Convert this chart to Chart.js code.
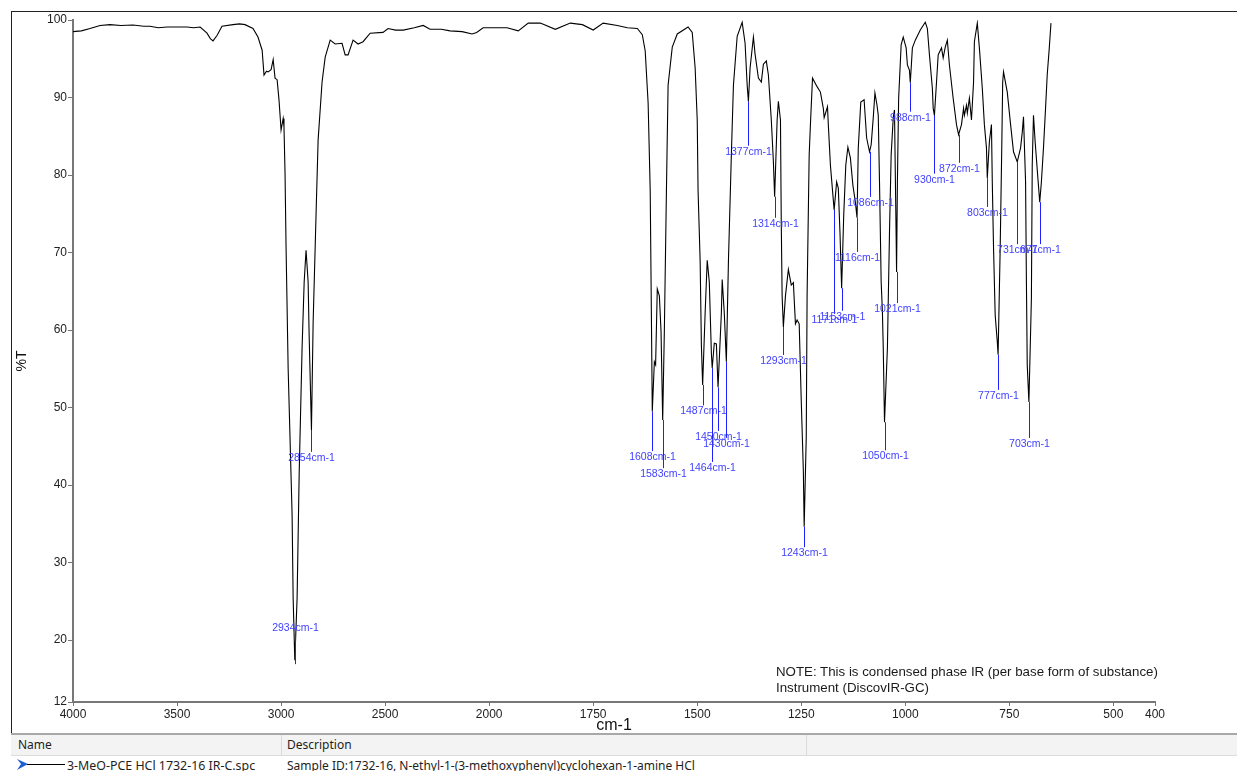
<!DOCTYPE html>
<html>
<head>
<meta charset="utf-8">
<script src="https://cdn.jsdelivr.net/npm/chart.js@4"></script>
<style>
  body { margin: 0; width: 1237px; height: 771px; position: relative; overflow: hidden; background: #fff; font-family: "Liberation Sans", Arial, sans-serif; }
  #frame { position: absolute; left: 11px; top: 11px; width: 1240px; height: 722px; border-left: 1px solid #222; border-top: 1px solid #222; }
  #chart { position: absolute; left: 0; top: 0; }
  .note { position: absolute; left: 776px; font-size: 13.3px; line-height: 16px; color: #1a1a1a; white-space: pre; }
  #table { position: absolute; left: 11px; top: 733px; width: 1240px; height: 40px; background: #fff; font-family: "Noto Sans", sans-serif; font-size: 12px; color: #1e1e1e; border-top: 2px solid #a8a8a8; }
  #thead { position: absolute; left: 0; top: 0; width: 100%; height: 20px; background: #f3f3f3; border-bottom: 1px solid #dcdcdc; }
  .cell { position: absolute; white-space: pre; line-height: 20px; }
  .sep { position: absolute; top: 0; width: 1px; height: 20px; background: #dadada; }
</style>
</head>
<body>
<div id="frame"></div>
<canvas id="chart" width="1237" height="771"></canvas>
<div class="note" style="top:664px">NOTE: This is condensed phase IR (per base form of substance)</div>
<div class="note" style="top:680px">Instrument (DiscovIR-GC)</div>
<div id="table">
  <div id="thead">
    <div class="cell" style="left:7px">Name</div>
    <div class="sep" style="left:270px"></div>
    <div class="cell" style="left:276px">Description</div>
    <div class="sep" style="left:795px"></div>
  </div>
  <svg style="position:absolute;left:6px;top:24px" width="12" height="12"><polygon points="0,0 11,5 0,11 4,5" fill="#1f5fd6"/></svg>
  <div style="position:absolute;left:16px;top:29px;width:38px;height:1px;background:#000"></div>
  <div class="cell" style="left:56px;top:21px;font-size:12.4px">3-MeO-PCE HCl 1732-16 IR-C.spc</div>
  <div class="cell" style="left:276px;top:21px">Sample ID:1732-16, N-ethyl-1-(3-methoxyphenyl)cyclohexan-1-amine HCl</div>
</div>
<script>
// spectrum (wavenumber cm-1, %T)
const wavenumbers = [
  4000, 3960, 3918, 3870, 3822, 3770, 3712, 3660, 3630, 3590, 3548, 3500, 3452, 3420, 3389, 3356, 3340, 3327, 3308, 3284,
  3231, 3200, 3173, 3135, 3111, 3091, 3082, 3070, 3062, 3048, 3038, 3029, 3019, 3010, 3000, 2990, 2986, 2981, 2976, 2966,
  2947, 2942, 2934, 2923, 2913, 2899, 2889, 2880, 2870, 2865, 2854, 2846, 2832, 2822, 2803, 2788, 2764, 2740, 2707, 2692,
  2678, 2654, 2630, 2606, 2572, 2510, 2486, 2450, 2413, 2360, 2317, 2284, 2230, 2188, 2130, 2082, 2060, 2029, 1990, 1957,
  1930, 1906, 1877, 1841, 1805, 1776, 1750, 1726, 1692, 1668, 1644, 1632, 1625, 1618, 1613, 1611, 1608, 1603, 1600, 1596,
  1591, 1587, 1583, 1579, 1574, 1570, 1560, 1548, 1522, 1512, 1505, 1500, 1498, 1493, 1490, 1487, 1481, 1476, 1471, 1466,
  1464, 1459, 1454, 1450, 1442, 1440, 1435, 1430, 1425, 1418, 1413, 1404, 1392, 1385, 1380, 1377, 1373, 1365, 1361, 1353,
  1346, 1341, 1334, 1329, 1322, 1317, 1314, 1308, 1305, 1300, 1298, 1296, 1293, 1288, 1281, 1274, 1269, 1264, 1260, 1255,
  1250, 1245, 1243, 1238, 1236, 1231, 1228, 1223, 1212, 1204, 1197, 1195, 1187, 1185, 1180, 1171, 1165, 1161, 1157, 1153,
  1148, 1143, 1138, 1132, 1126, 1120, 1116, 1113, 1107, 1099, 1093, 1086, 1082, 1077, 1073, 1068, 1065, 1062, 1058, 1055,
  1053, 1050, 1043, 1038, 1034, 1029, 1026, 1024, 1022, 1021, 1019, 1016, 1010, 1005, 998, 995, 990, 988, 983, 976,
  964, 952, 947, 942, 935, 933, 930, 925, 921, 913, 909, 904, 899, 894, 885, 877, 872, 865, 860, 858,
  853, 851, 846, 841, 836, 834, 827, 822, 815, 810, 805, 803, 798, 793, 791, 788, 784, 779, 777, 772,
  768, 766, 764, 755, 747, 740, 731, 723, 719, 716, 711, 709, 707, 703, 697, 695, 692, 688, 682, 677,
  673, 668, 663, 659, 654, 650
];
const transmittance = [
  98.5, 98.6, 98.9, 99.3, 99.4, 99.3, 99.35, 99.2, 99.2, 99.0, 99.1, 99.1, 99.1, 99.0, 99.1, 98.3, 97.6, 97.3, 98.0, 99.2,
  99.4, 99.5, 99.4, 98.9, 97.8, 96.1, 92.9, 93.4, 93.3, 93.6, 94.9, 92.5, 92.3, 89.7, 85.8, 87.3, 86.2, 80.3, 70.6, 55.0,
  36.1, 25.4, 17.4, 25.4, 41.5, 57.7, 66.2, 70.3, 66.2, 59.2, 47.1, 60.9, 74.8, 84.5, 92.0, 95.2, 97.4, 96.9, 97.0, 95.5,
  95.5, 97.4, 96.9, 97.2, 98.3, 98.4, 98.9, 98.7, 98.7, 99.0, 99.3, 98.8, 98.8, 98.6, 98.5, 98.2, 98.4, 99.0, 99.0, 99.0,
  98.6, 99.6, 99.6, 98.8, 99.6, 99.4, 98.7, 99.6, 99.3, 99.0, 98.9, 98.1, 96.0, 89.3, 78.0, 66.7, 49.5, 55.9, 55.5, 65.3,
  64.4, 59.9, 48.4, 59.9, 78.0, 91.6, 96.5, 98.2, 99.1, 98.4, 93.8, 87.1, 78.0, 68.9, 58.0, 52.9, 62.2, 69.0, 66.2, 57.0,
  55.1, 58.3, 58.2, 52.6, 62.2, 66.5, 62.2, 55.9, 68.9, 82.6, 91.6, 97.9, 99.7, 97.0, 91.6, 89.5, 93.8, 97.8, 95.6, 92.5,
  92.0, 94.3, 94.7, 92.9, 87.1, 81.7, 77.2, 87.1, 89.5, 87.1, 73.5, 64.4, 60.4, 64.4, 67.8, 65.8, 66.1, 60.8, 61.3, 60.8,
  50.8, 41.8, 34.6, 46.3, 64.4, 82.6, 86.5, 92.5, 91.4, 90.7, 88.6, 87.4, 88.8, 86.5, 81.3, 75.5, 79.1, 78.3, 72.6, 65.4,
  74.8, 81.3, 83.6, 82.2, 78.7, 76.5, 74.5, 83.5, 89.4, 89.7, 84.8, 83.0, 83.9, 87.4, 90.6, 89.0, 87.7, 79.1, 66.2, 62.3,
  57.7, 48.1, 57.7, 72.6, 82.6, 87.4, 88.4, 80.0, 72.0, 67.5, 79.1, 89.9, 96.8, 97.8, 96.4, 94.2, 93.5, 91.9, 96.4, 97.4,
  98.7, 99.7, 98.9, 95.5, 91.2, 88.6, 87.7, 92.0, 95.5, 96.4, 95.1, 96.5, 97.4, 94.2, 89.9, 86.5, 85.2, 86.5, 88.6, 87.7,
  89.0, 88.0, 89.9, 87.1, 92.0, 97.2, 99.6, 96.4, 91.2, 86.5, 83.5, 79.6, 84.3, 86.5, 79.1, 70.6, 61.9, 58.5, 56.8, 70.6,
  84.3, 92.0, 93.3, 90.7, 86.5, 83.0, 81.7, 83.5, 85.5, 87.5, 79.1, 66.2, 55.5, 50.7, 64.1, 81.3, 87.7, 84.3, 80.0, 76.5,
  79.1, 83.5, 88.6, 92.9, 96.4, 99.6
];

// labelled peaks: position, %T at the minimum, %T where the label sits
const peakWavenumbers = [2934, 2854, 1608, 1583, 1487, 1464, 1450, 1430, 1377, 1314, 1293, 1243, 1171, 1153, 1116, 1086, 1050, 1021, 988, 930, 872, 803, 777, 731, 703, 677];
const peakMinT = [17.4, 47.1, 49.5, 48.4, 52.9, 55.1, 52.6, 55.9, 89.5, 77.2, 60.4, 34.6, 75.5, 65.4, 74.5, 83.0, 48.1, 67.5, 91.9, 87.7, 85.2, 79.6, 56.8, 81.7, 50.7, 76.5];
const peakLabelT = [21.5, 43.5, 43.6, 41.4, 49.5, 42.2, 46.2, 45.3, 83.0, 73.7, 56.0, 31.2, 61.3, 61.7, 69.3, 76.4, 43.7, 62.7, 87.4, 79.4, 80.8, 75.1, 51.5, 70.3, 45.3, 70.3];

const xTickLabels = [4000, 3500, 3000, 2500, 2000, 1750, 1500, 1250, 1000, 750, 500, 400];
const yTickLabels = [12, 20, 30, 40, 50, 60, 70, 80, 90, 100];

// axis is expanded 2x below 2000 cm-1
function toAxis(wn) {
  return wn >= 2000 ? 4000 - wn : 2000 + 2 * (2000 - wn);
}
function fromAxis(u) {
  return Math.round(u <= 2000 ? 4000 - u : 2000 - (u - 2000) / 2);
}

const points = wavenumbers.map((w, i) => ({ x: toAxis(w), y: transmittance[i] }));

const axisColor = "#777";
const tickFont = { family: "Liberation Sans", size: 12 };

const peakLabels = {
  id: "peakLabels",
  afterDatasetsDraw(chart) {
    const ctx = chart.ctx;
    const xs = chart.scales.x, ys = chart.scales.y;
    ctx.save();
    ctx.font = "10.5px 'Liberation Sans'";
    ctx.textAlign = "center";
    ctx.textBaseline = "middle";
    peakWavenumbers.forEach((wn, i) => {
      const x = Math.round(xs.getPixelForValue(toAxis(wn))) + 0.5;
      const y1 = ys.getPixelForValue(peakMinT[i]);
      const yl = ys.getPixelForValue(peakLabelT[i]);
      ctx.strokeStyle = "#2020ff";
      ctx.lineWidth = 1;
      ctx.beginPath();
      if (yl > y1) {
        ctx.moveTo(x, y1);
        ctx.lineTo(x, yl - 6);
      } else {
        ctx.moveTo(x, yl + 6);
        ctx.lineTo(x, y1 + 4);
      }
      ctx.stroke();
      ctx.fillStyle = "#4141ff";
      ctx.fillText(wn + "cm-1", x, yl);
    });
    ctx.restore();
  }
};

new Chart(document.getElementById("chart"), {
  type: "line",
  data: {
    datasets: [{
      data: points,
      borderColor: "#000",
      borderWidth: 1.1,
      pointRadius: 0,
      tension: 0,
      fill: false
    }]
  },
  options: {
    responsive: false,
    animation: false,
    layout: { padding: { left: 0, right: 82, top: 20, bottom: 29 } },
    plugins: { legend: { display: false }, tooltip: { enabled: false } },
    scales: {
      x: {
        type: "linear",
        min: 0,
        max: 5200,
        afterBuildTicks: s => { s.ticks = xTickLabels.map(w => ({ value: toAxis(w) })); },
        afterFit: s => { s.height = 40; },
        ticks: { callback: v => fromAxis(v), autoSkip: false, maxRotation: 0, padding: 1, font: tickFont, color: "#222" },
        grid: { drawOnChartArea: false, tickLength: 4, color: axisColor },
        border: { color: axisColor, width: 2 },
        title: { display: true, text: "cm-1", color: "#111", font: { family: "Liberation Sans", size: 16 }, padding: { top: 0, bottom: 6.4 } }
      },
      y: {
        min: 12,
        max: 100,
        afterBuildTicks: s => { s.ticks = yTickLabels.map(v => ({ value: v })); },
        afterFit: s => { s.width = 73; },
        ticks: { autoSkip: false, padding: 1, font: tickFont, color: "#222" },
        grid: { drawOnChartArea: false, tickLength: 5, color: axisColor },
        border: { color: axisColor, width: 2 },
        title: { display: true, text: "%T", color: "#111", font: { family: "Liberation Sans", size: 14 }, padding: { top: 14, bottom: 0 } }
      }
    }
  },
  plugins: [peakLabels]
});
</script>
</body>
</html>
